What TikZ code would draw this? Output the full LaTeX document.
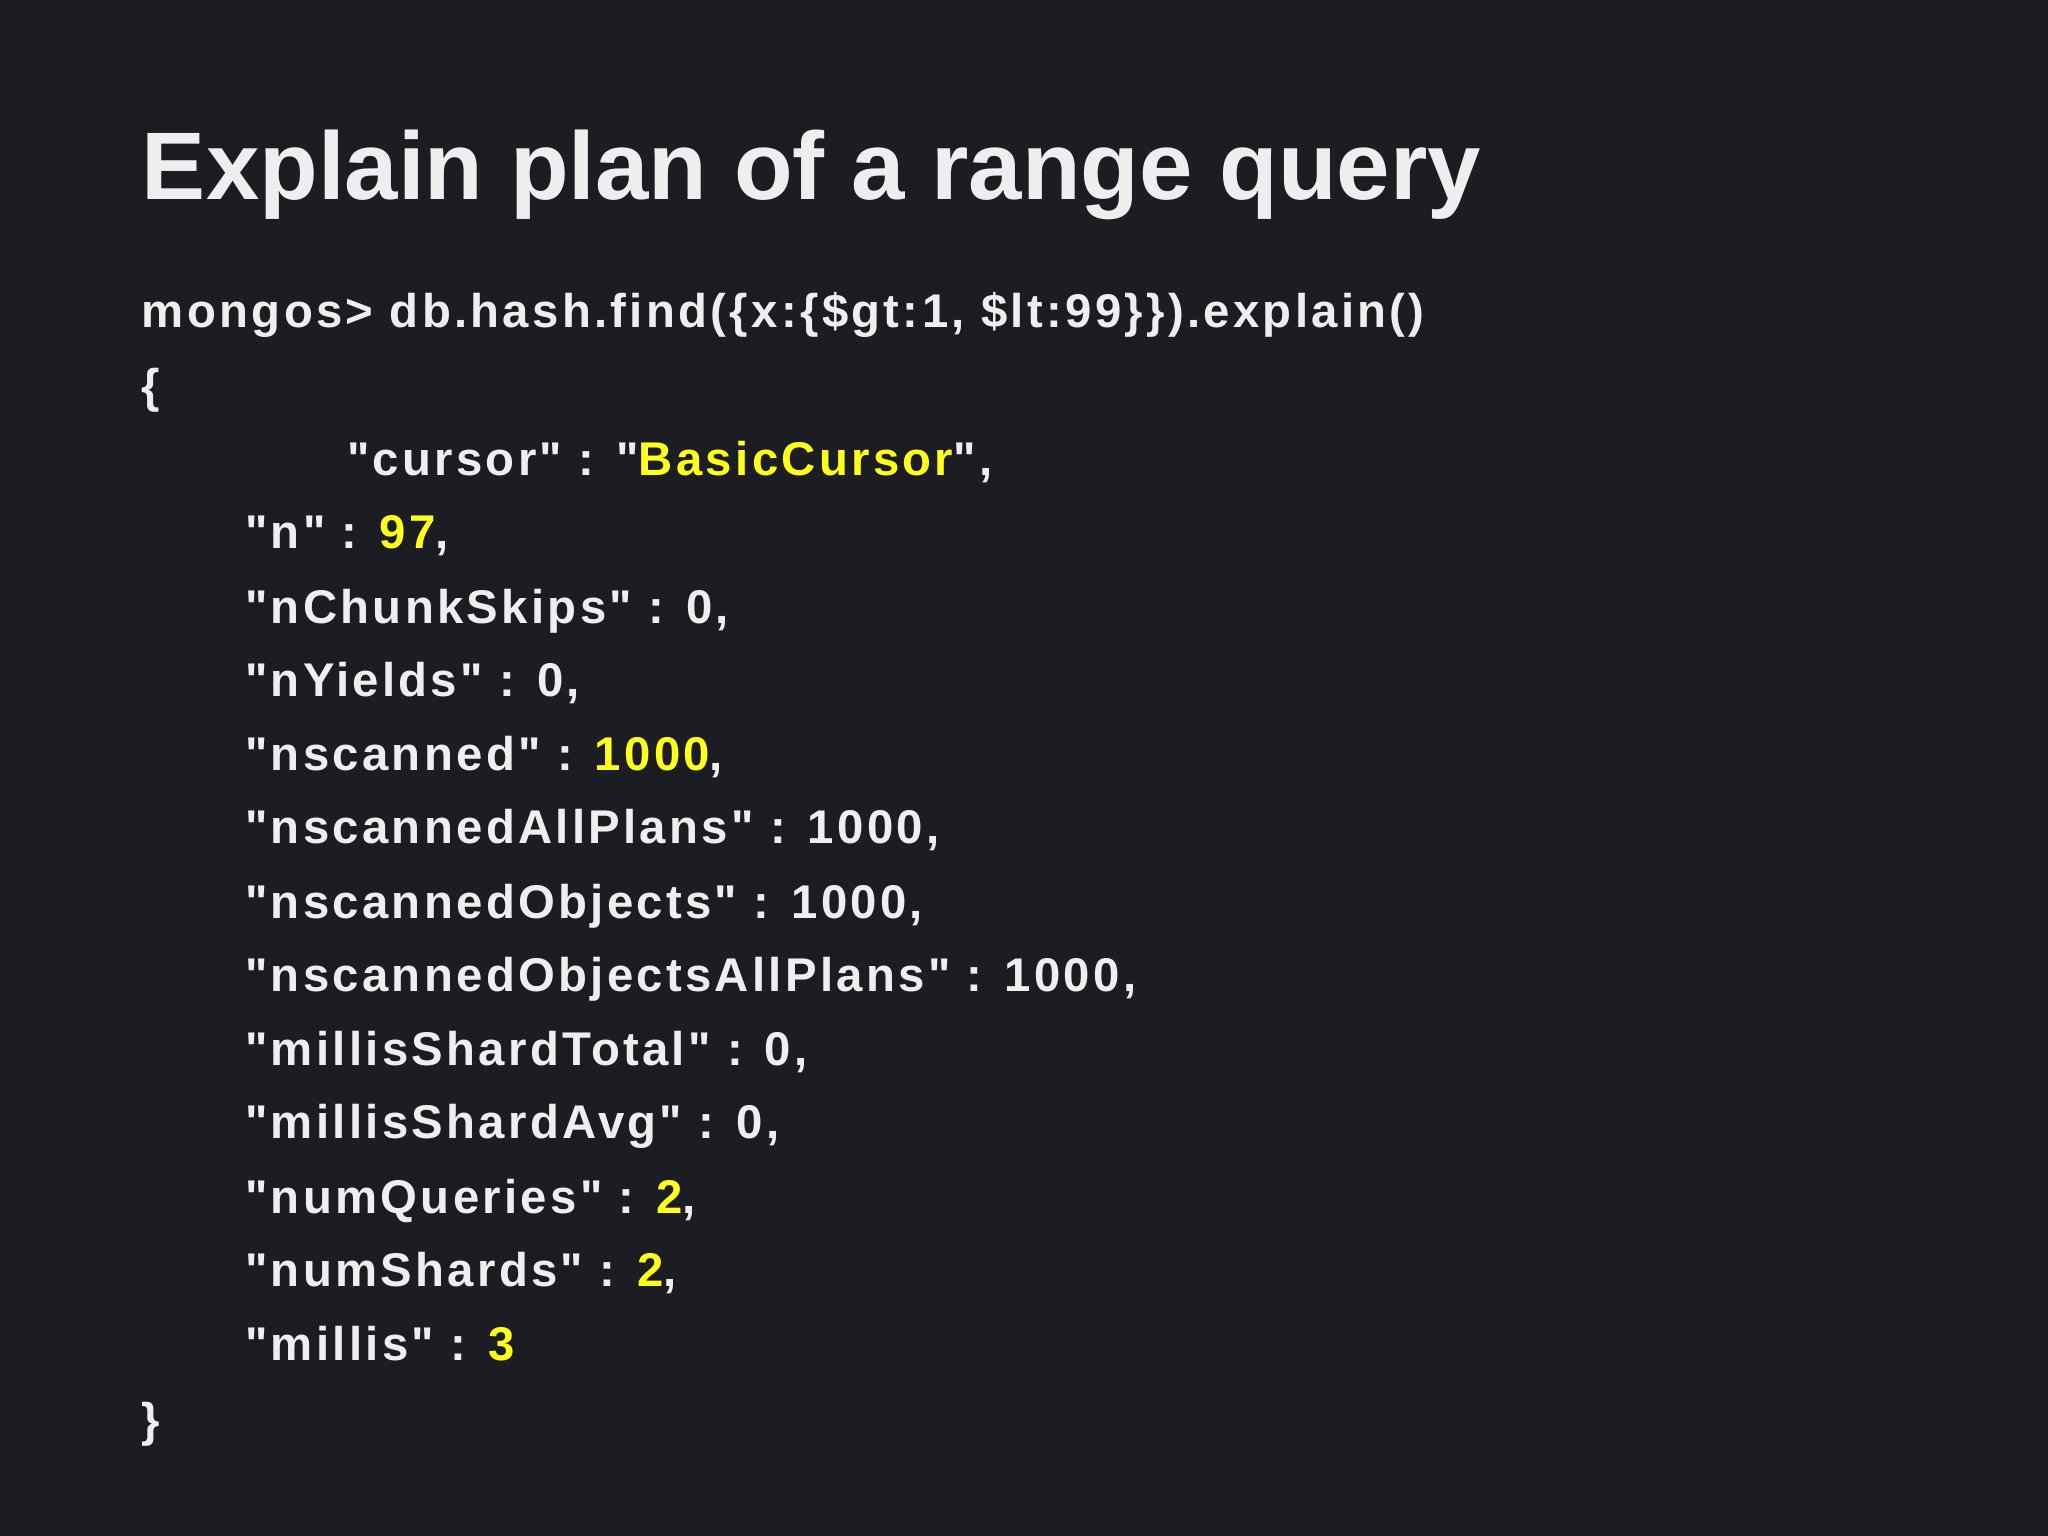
\documentclass[tikz,border=0pt]{standalone}
\usepackage{fontspec}
\setmainfont{Liberation Sans}
\newfontfamily\bodyfont[LetterSpace=7]{Liberation Sans}
\definecolor{bg}{HTML}{1B1D23}
\definecolor{fg}{HTML}{EEEEEE}
\definecolor{hl}{HTML}{FFFF1A}
\newcommand{\Y}[1]{\textcolor{hl}{#1}}
\newcommand{\q}{\char34}
\begin{document}
\begin{tikzpicture}[x=0.01cm,y=-0.01cm,
  ln/.style={anchor=base west,inner sep=0pt,text=fg,font=\bodyfont\fontsize{10.3pt}{12pt}\bfseries},
  ttl/.style={anchor=base west,inner sep=0pt,text=fg,font=\fontsize{20.9pt}{24pt}\bfseries}]
\fill[bg] (0,0) rectangle (1568,1176);
\useasboundingbox (0,0) rectangle (1568,1176);
\node[ttl] (title) at (108,153) {Explain plan of a range query};
\node[ln] (l0) at (108,251) {mongos> db.hash.find(\{x:\{\$gt:1, \$lt:99\}\}).explain()};
\node[ln] (l1) at (108,308) {\{};
\node[ln] (l2) at (265,364) {\q cursor\q{} : \q\Y{BasicCursor}\q,};
\node[ln] (l3) at (187,420) {\q n\q{} : \Y{97},};
\node[ln] (l4) at (187,477) {\q nChunkSkips\q{} : 0,};
\node[ln] (l5) at (187,533) {\q nYields\q{} : 0,};
\node[ln] (l6) at (187,590) {\q nscanned\q{} : \Y{1000},};
\node[ln] (l7) at (187,646) {\q nscannedAllPlans\q{} : 1000,};
\node[ln] (l8) at (187,703) {\q nscannedObjects\q{} : 1000,};
\node[ln] (l9) at (187,759) {\q nscannedObjectsAllPlans\q{} : 1000,};
\node[ln] (l10) at (187,816) {\q millisShardTotal\q{} : 0,};
\node[ln] (l11) at (187,872) {\q millisShardAvg\q{} : 0,};
\node[ln] (l12) at (187,929) {\q numQueries\q{} : \Y{2},};
\node[ln] (l13) at (187,985) {\q numShards\q{} : \Y{2},};
\node[ln] (l14) at (187,1042) {\q millis\q{} : \Y{3}};
\node[ln] (l15) at (108,1100) {\}};
\end{tikzpicture}
\end{document}
